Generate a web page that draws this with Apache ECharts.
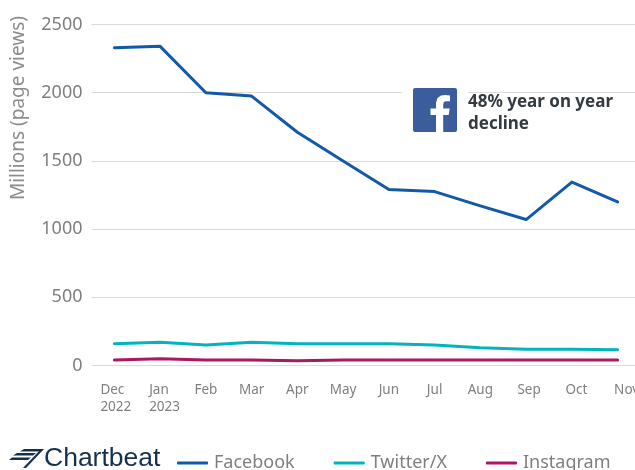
<!DOCTYPE html>
<html><head><meta charset="utf-8"><style>html,body{margin:0;padding:0;background:#fff;overflow:hidden;width:635px;height:470px}#c{width:645px;height:470px}</style>
<script src="https://cdn.jsdelivr.net/npm/echarts@6/dist/echarts.min.js"></script></head>
<body><div id="c"></div><script>
const months=['Dec\n2022','Jan\n2023','Feb','Mar','Apr','May','Jun','Jul','Aug','Sep','Oct','Nov'];
const facebook=[2330,2340,2000,1975,1710,1500,1290,1275,1170,1070,1345,1200];
const twitter=[160,170,150,170,160,160,160,150,130,120,120,115];
const instagram=[40,50,40,40,35,40,40,40,40,40,40,40];
const chart=echarts.init(document.getElementById('c'),null,{renderer:'canvas'});
const font='"Noto Sans"';
const navy='#14304f';
function s(name,data,color){return {name,type:'line',data,symbol:'none',lineStyle:{color,width:3,cap:'round',join:'round'},itemStyle:{color},silent:true,animation:false};}
const lab={fontSize:13.5,lineHeight:17,color:'#7f7f7f',fontFamily:font};
function labelText(v,i){
 if(v.includes('\n')) return v.split('\n').map(t=>'{'+(i?'b':'a')+'|'+t+'}').join('\n');
 if(v==='Sep') return '{s|'+v+'}';
 if(v==='Oct') return '{o|'+v+'}';
 if(v==='Nov') return '{n|'+v+'}';
 return v;
}
chart.setOption({
 animation:false,
 grid:{left:91.5,width:549,top:24.5,height:341,containLabel:false},
 xAxis:{type:'category',data:months,boundaryGap:true,
  axisLine:{show:false},axisTick:{show:false},
  axisLabel:{interval:0,margin:16,...lab,verticalAlign:'top',formatter:labelText,
   rich:{a:{...lab,width:31,align:'left',padding:[0,0,0,3]},b:{...lab,width:31,align:'left',padding:[0,0,0,9]},
    s:{...lab,padding:[0,0,0,6]},o:{...lab,padding:[0,0,0,9]},n:{...lab,padding:[0,0,0,18]}}}},
 yAxis:{type:'value',min:0,max:2500,interval:500,
  axisLine:{show:false},axisTick:{show:false},
  axisLabel:{margin:9,fontSize:18,color:'#7f7f7f',fontFamily:font,formatter:v=>String(v)},
  splitLine:{lineStyle:{color:'#d9d9d9',width:1}}},
 legend:{left:177,top:454,itemWidth:31,itemHeight:3,itemGap:39,icon:'roundRect',padding:0,
  textStyle:{fontSize:18,color:'#7f7f7f',fontFamily:font,padding:[0,0,0,1]},
  data:['Facebook','Twitter/X','Instagram']},
 series:[s('Facebook',facebook,'#1259a7'),s('Twitter/X',twitter,'#00b5bd'),s('Instagram',instagram,'#ad1660')],
 graphic:[
  {type:'rect',shape:{x:402,y:86,width:66,height:12},style:{fill:'#fff'},z:1},
  {type:'rect',shape:{x:413,y:88,width:44,height:44,r:2},style:{fill:'#3b5d9c'},z:2},
  {type:'polygon',shape:{points:[[436,132],[436,115],[430.5,115],[430.5,108.5],[436,108.5],[436,103],[437.5,98],[441,95.5],[445,95],[450,95.4],[450,101.2],[446,101.2],[443.8,102],[443.2,104.6],[443.2,108.5],[449.6,108.5],[448.7,115],[443.2,115],[443.2,132]]},style:{fill:'#fff'},z:3},
  {type:'text',x:468,y:91,z:3,style:{text:'48% year on year\ndecline',font:'bold 17px '+font,fill:'#333a40',lineHeight:22}},
  {type:'text',x:19,y:108,rotation:Math.PI/2,z:3,style:{text:'Millions (page views)',font:'19px '+font,fill:'#8c8c8c',align:'center',verticalAlign:'middle'}},
  {type:'polygon',shape:{points:[[24,449],[43,449],[40,451.5],[20,451.5]]},style:{fill:navy}},
  {type:'polygon',shape:{points:[[17,453],[36,453],[33,455.5],[13,455.5]]},style:{fill:navy}},
  {type:'polygon',shape:{points:[[12,457.5],[31,457.5],[28,460],[9,460]]},style:{fill:navy}},
  {type:'polygon',shape:{points:[[41,449],[44,449],[26,468],[23,468]]},style:{fill:navy}},
  {type:'text',x:44,y:445,z:3,style:{text:'Chartbeat',font:'26.5px "Liberation Sans"',fill:navy}}
 ]
});
</script></body></html>
